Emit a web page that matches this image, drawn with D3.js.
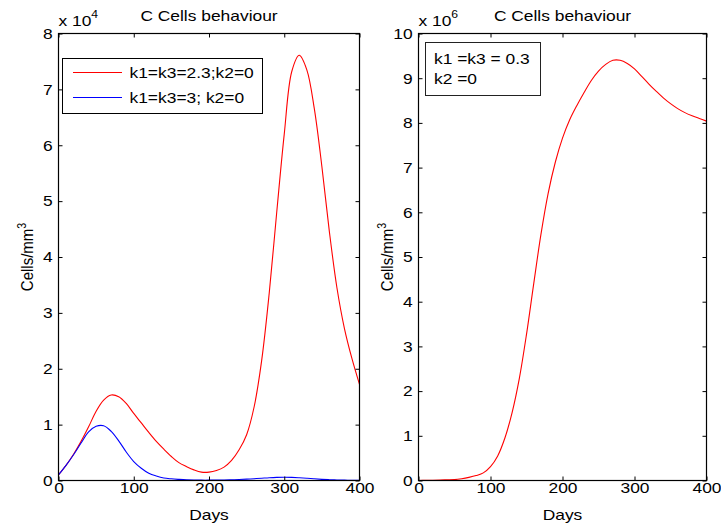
<!DOCTYPE html>
<html>
<head>
<meta charset="utf-8">
<script src="https://cdn.jsdelivr.net/npm/d3@7"></script>
<style>
    body { margin: 0; background: #fff; }
</style>
</head>
<body>
<div id="canvas"></div>
<script>
//Data (days, cells/mm3 scaled by the axis multiplier)
var days = [0, 10, 20, 30, 40, 50, 60, 70, 80, 90, 100, 110, 120, 130, 140, 150, 160, 170, 180, 190, 200,
    210, 220, 230, 240, 250, 260, 270, 280, 290, 300, 310, 320, 330, 340, 350, 360, 370, 380, 390, 400];

// left panel, x 10^4
var redLeft = [0.10, 0.27, 0.47, 0.70, 0.96, 1.24, 1.44, 1.53, 1.50, 1.38, 1.20, 1.03, 0.86, 0.70, 0.56, 0.43,
    0.32, 0.25, 0.19, 0.15, 0.15, 0.18, 0.24, 0.36, 0.55, 0.82, 1.32, 2.15, 3.35, 4.80, 6.20, 7.32, 7.61, 7.35,
    6.65, 5.62, 4.45, 3.45, 2.72, 2.18, 1.72];
var blueLeft = [0.10, 0.27, 0.46, 0.67, 0.87, 0.97, 0.98, 0.88, 0.71, 0.51, 0.34, 0.22, 0.13, 0.08, 0.045, 0.03,
    0.02, 0.012, 0.008, 0.006, 0.006, 0.007, 0.009, 0.012, 0.017, 0.024, 0.032, 0.041, 0.050, 0.056, 0.058,
    0.056, 0.049, 0.040, 0.030, 0.021, 0.014, 0.009, 0.006, 0.004, 0.003];

// right panel, x 10^6
var redRight = [0.00, 0.003, 0.006, 0.01, 0.015, 0.02, 0.04, 0.07, 0.11, 0.17, 0.31, 0.55, 0.95, 1.52, 2.28, 3.27,
    4.40, 5.50, 6.42, 7.12, 7.66, 8.07, 8.39, 8.68, 8.95, 9.16, 9.31, 9.40, 9.40, 9.33, 9.21, 9.04, 8.87, 8.71,
    8.56, 8.43, 8.32, 8.23, 8.16, 8.10, 8.04];

var xTicks = [0, 100, 200, 300, 400];
var yTicksLeft = [0, 1, 2, 3, 4, 5, 6, 7, 8];
var yTicksRight = [0, 1, 2, 3, 4, 5, 6, 7, 8, 9, 10];

var legendLeft = ["k1=k3=2.3;k2=0", "k1=k3=3; k2=0"];
var noteRight = ["k1 =k3 = 0.3", "k2 =0"];

var width = 721, height = 531;
var font = "'Liberation Sans', Arial, Helvetica, sans-serif";
var sx = 1.16; // the original figure is stretched sideways

var svgContainer = d3.select("#canvas").append("svg")
    .attr("width", width)
    .attr("height", height)
    .attr("xmlns", "http://www.w3.org/2000/svg");

svgContainer.append("rect")
    .attr("width", width)
    .attr("height", height)
    .attr("fill", "#fff");

//helper for stretched text
function addText(g, x, y, str, anchor, size) {
    return g.append("text")
        .attr("transform", "translate(" + x + "," + y + ") scale(" + sx + ",1)")
        .attr("text-anchor", anchor)
        .attr("font-family", font)
        .attr("font-size", size)
        .attr("fill", "#000")
        .text(str);
}

function drawPanel(x, y, yTicks, exponent, series) {
    var g = svgContainer.append("g");
    var x0 = x.range()[0], x1 = x.range()[1];
    var y0 = y.range()[1], y1 = y.range()[0];
    var line = d3.line()
        .x(function (d, i) { return x(days[i]); })
        .y(function (d) { return y(d); })
        .curve(d3.curveCatmullRom.alpha(0.5));

    //curves
    series.forEach(function (s) {
        g.append("path")
            .datum(s.values)
            .attr("d", line)
            .attr("fill", "none")
            .attr("stroke", s.color)
            .attr("stroke-width", 1.1);
    });

    //axes, ticks pointing inside
    g.append("g")
        .attr("transform", "translate(0," + y1 + ")")
        .call(d3.axisBottom(x).tickValues(xTicks).tickSize(-4).tickPadding(2));
    g.append("g")
        .attr("transform", "translate(0," + y0 + ")")
        .call(d3.axisTop(x).tickValues(xTicks).tickSize(-4).tickFormat(""));
    g.append("g")
        .attr("transform", "translate(" + x0 + ",0)")
        .call(d3.axisLeft(y).tickValues(yTicks).tickSize(-4).tickPadding(5));
    g.append("g")
        .attr("transform", "translate(" + x1 + ",0)")
        .call(d3.axisRight(y).tickValues(yTicks).tickSize(-4).tickFormat(""));

    g.selectAll(".domain").remove();
    g.selectAll(".tick line").attr("stroke", "#000");
    g.selectAll(".tick text")
        .attr("font-family", font)
        .attr("font-size", 15)
        .attr("fill", "#000")
        .attr("transform", "scale(" + sx + ",1)");

    //frame
    g.append("rect")
        .attr("x", x0)
        .attr("y", y0)
        .attr("width", x1 - x0)
        .attr("height", y1 - y0)
        .attr("fill", "none")
        .attr("stroke", "#000")
        .attr("stroke-width", 1.2);

    //title
    addText(g, (x0 + x1) / 2, 21, "C Cells behaviour", "middle", 15);

    //multiplier "x 10^n"
    var m = addText(g, x0, 25.5, "x 10", "start", 15);
    m.append("tspan").attr("dy", -8).attr("font-size", 10.5).text(exponent);

    //x label
    addText(g, (x0 + x1) / 2, 520, "Days", "middle", 15);

    //y label
    var yl = g.append("text")
        .attr("transform", "translate(" + (x0 - 26) + "," + ((y0 + y1) / 2) + ") scale(" + sx + ",1) rotate(-90)")
        .attr("text-anchor", "middle")
        .attr("font-family", font)
        .attr("font-size", 15)
        .attr("fill", "#000")
        .text("Cells/mm");
    yl.append("tspan").attr("dy", -6).attr("font-size", 10.5).text("3");

    return g;
}

//Left panel
var xLeft = d3.scaleLinear().domain([0, 400]).range([58.5, 359.5]);
var yLeft = d3.scaleLinear().domain([0, 8]).range([480.5, 33.5]);
var leftPanel = drawPanel(xLeft, yLeft, yTicksLeft, "4", [
    {values: redLeft, color: "#ff0000"},
    {values: blueLeft, color: "#0000ff"}
]);

//Right panel
var xRight = d3.scaleLinear().domain([0, 400]).range([418.5, 706.5]);
var yRight = d3.scaleLinear().domain([0, 10]).range([480.5, 33.5]);
var rightPanel = drawPanel(xRight, yRight, yTicksRight, "6", [
    {values: redRight, color: "#ff0000"}
]);

//Legend left
var legColors = ["#ff0000", "#0000ff"];
var leg = leftPanel.append("g");
leg.append("rect")
    .attr("x", 62.5)
    .attr("y", 58.5)
    .attr("width", 200)
    .attr("height", 55)
    .attr("fill", "#fff")
    .attr("stroke", "#000");
legendLeft.forEach(function (label, i) {
    var ly = 72.5 + i * 25;
    leg.append("line")
        .attr("x1", 73)
        .attr("x2", 122)
        .attr("y1", ly)
        .attr("y2", ly)
        .attr("stroke", legColors[i])
        .attr("stroke-width", 1.1);
    addText(leg, 129.5, ly + 5.5, label, "start", 15);
});

//Note right
var note = rightPanel.append("g");
note.append("rect")
    .attr("x", 425.5)
    .attr("y", 42.5)
    .attr("width", 115)
    .attr("height", 53)
    .attr("fill", "#fff")
    .attr("stroke", "#222");
noteRight.forEach(function (label, i) {
    addText(note, 434, 64 + i * 19.5, label, "start", 15);
});
</script>
</body>
</html>
